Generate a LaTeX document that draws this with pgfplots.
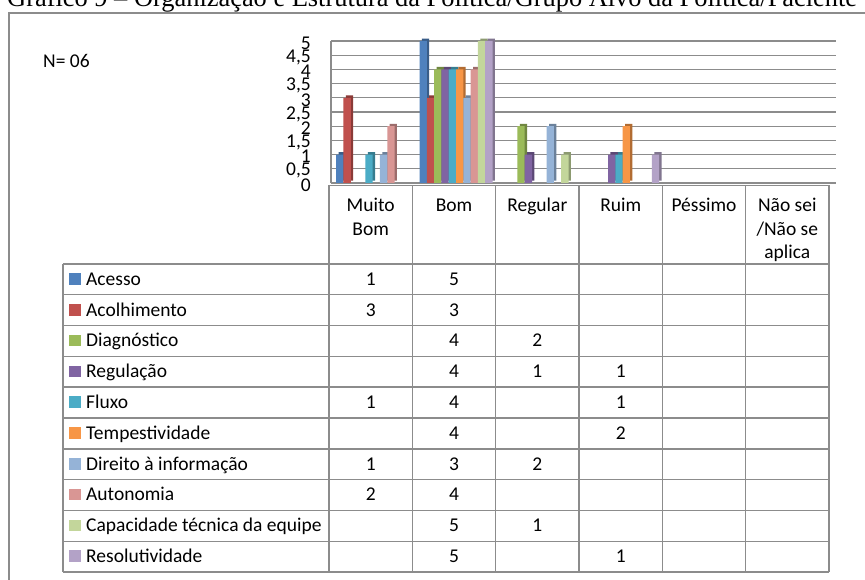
\documentclass[border=0pt]{standalone}
\usepackage{fontspec}
\setmainfont{Carlito}
\newfontfamily\timesfont{Liberation Serif}
\usepackage{pgfplots}
\usepackage{pgfplotstable}
\pgfplotsset{compat=1.18}

\definecolor{c1}{HTML}{4F81BD}
\definecolor{c2}{HTML}{C0504D}
\definecolor{c3}{HTML}{9BBB59}
\definecolor{c4}{HTML}{8064A2}
\definecolor{c5}{HTML}{4BACC6}
\definecolor{c6}{HTML}{F79646}
\definecolor{c7}{HTML}{95B3D7}
\definecolor{c8}{HTML}{D99694}
\definecolor{c9}{HTML}{C3D69B}
\definecolor{c10}{HTML}{B3A2C7}
\definecolor{linegray}{HTML}{8C8C8C}

% categories: 0 Muito Bom, 1 Bom, 2 Regular, 3 Ruim, 4 Pessimo, 5 Nao sei
\pgfplotstableread{
x a b c d e f g h i j
0 1 3 nan nan 1 nan 1 2 nan nan
1 5 3 4 4 4 4 3 4 5 5
2 nan nan 2 1 nan nan 2 nan 1 nan
3 nan nan nan 1 1 2 nan nan nan 1
}\data

\newcommand{\fs}{\fontsize{19.5}{23.5}\selectfont}

\newcommand{\barpair}[3]{%
  \addplot[fill=#2!72!black, draw=none, bar shift=#3+2.4pt, yshift=2.4pt] table[x=x,y=#1]{\data};
  \addplot[fill=#2, draw=none, bar shift=#3] table[x=x,y=#1]{\data};
}

% table row: index, name, colour, six values
\newcommand{\trow}[9]{%
  \pgfmathsetmacro{\yb}{293.7-30.8*#1}
  \pgfmathsetmacro{\yc}{300-30.8*#1}
  \fill[#3] (69.2,\yc-5.8) rectangle ++(11.6,11.6);
  \node[anchor=base west, inner sep=0, font=\fs] at (86,\yb) {#2};
  \node[anchor=base, inner sep=0, font=\fs] at (370.7,\yb) {#4};
  \node[anchor=base, inner sep=0, font=\fs] at (454.0,\yb) {#5};
  \node[anchor=base, inner sep=0, font=\fs] at (537.3,\yb) {#6};
  \node[anchor=base, inner sep=0, font=\fs] at (620.7,\yb) {#7};
  \node[anchor=base, inner sep=0, font=\fs] at (704.0,\yb) {#8};
  \node[anchor=base, inner sep=0, font=\fs] at (787.3,\yb) {#9};
}

\begin{document}
\begin{tikzpicture}[x=1pt,y=1pt]
\useasboundingbox (0,0) rectangle (865,579);
\clip (0,0) rectangle (865,579);
\fill[white] (0,0) rectangle (865,579);

% title (cut by the top edge)
\node[anchor=base west, inner sep=0, font=\timesfont\fontsize{26.4}{30}\selectfont] at (7,572)
  {Gráfico 9 – Organização e Estrutura da Política/Grupo Alvo da Política/Paciente};

% chart frame
\draw[linegray, line width=1.5pt] (9,-20) -- (9,566) -- (890,566);

\node[anchor=base west, inner sep=0, font=\fs] at (43,511) {N= 06};

\begin{axis}[
  at={(331pt,396pt)}, anchor=south west,
  scale only axis, width=505pt, height=142pt,
  xmin=-0.5, xmax=5.56, ymin=0, ymax=5,
  ybar, bar width=7.3pt,
  axis x line=none, axis y line*=left,
  y axis line style={draw=linegray, line width=1.3pt, -},
  xtick=\empty,
  ytick={0,0.5,1,1.5,2,2.5,3,3.5,4,4.5,5},
  major tick length=0pt,
  ymajorgrids, grid style={draw=linegray, line width=1.3pt},
  /pgf/number format/use comma,
  /pgf/number format/assume math mode=true,
  yticklabel style={font=\fs, inner sep=0pt, xshift=-20pt, yshift=-2pt},
  clip=false,
]
\barpair{a}{c1}{-32.85pt}
\barpair{b}{c2}{-25.55pt}
\barpair{c}{c3}{-18.25pt}
\barpair{d}{c4}{-10.95pt}
\barpair{e}{c5}{-3.65pt}
\barpair{f}{c6}{3.65pt}
\barpair{g}{c7}{10.95pt}
\barpair{h}{c8}{18.25pt}
\barpair{i}{c9}{25.55pt}
\barpair{j}{c10}{32.85pt}
\end{axis}

% data table grid
\begin{scope}[linegray, line width=1.4pt]
\draw (329,393.5) -- (829,393.5);
\foreach \k in {0,...,10} { \draw (63,315-30.8*\k) -- (829,315-30.8*\k); }
\draw (63,315) -- (63,7);
\foreach \xx in {329,412.3,495.7,579,662.3,745.7,829} { \draw (\xx,393.5) -- (\xx,7); }
\end{scope}

% header
\node[anchor=base, inner sep=0, font=\fs] at (370.7,367) {Muito};
\node[anchor=base, inner sep=0, font=\fs] at (370.7,343.5) {Bom};
\node[anchor=base, inner sep=0, font=\fs] at (454.0,367) {Bom};
\node[anchor=base, inner sep=0, font=\fs] at (537.3,367) {Regular};
\node[anchor=base, inner sep=0, font=\fs] at (620.7,367) {Ruim};
\node[anchor=base, inner sep=0, font=\fs] at (704.0,367) {Péssimo};
\node[anchor=base, inner sep=0, font=\fs] at (787.3,367) {Não sei};
\node[anchor=base, inner sep=0, font=\fs] at (787.3,343.5) {/Não se};
\node[anchor=base, inner sep=0, font=\fs] at (787.3,320) {aplica};

\trow{0}{Acesso}{c1}{1}{5}{}{}{}{}
\trow{1}{Acolhimento}{c2}{3}{3}{}{}{}{}
\trow{2}{Diagnóstico}{c3}{}{4}{2}{}{}{}
\trow{3}{Regulação}{c4}{}{4}{1}{1}{}{}
\trow{4}{Fluxo}{c5}{1}{4}{}{1}{}{}
\trow{5}{Tempestividade}{c6}{}{4}{}{2}{}{}
\trow{6}{Direito à informação}{c7}{1}{3}{2}{}{}{}
\trow{7}{Autonomia}{c8}{2}{4}{}{}{}{}
\trow{8}{Capacidade técnica da equipe}{c9}{}{5}{1}{}{}{}
\trow{9}{Resolutividade}{c10}{}{5}{}{1}{}{}
\end{tikzpicture}
\end{document}
